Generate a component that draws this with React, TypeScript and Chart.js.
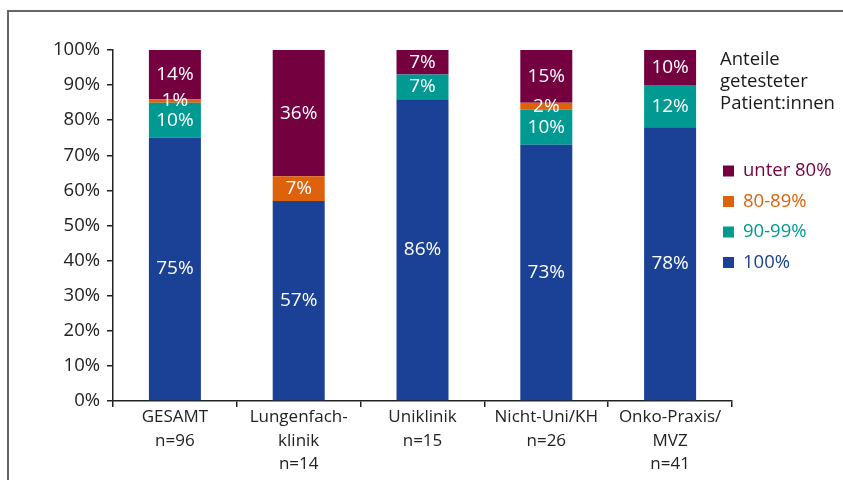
import React, { useEffect, useRef } from "react";
import { Chart, registerables } from "chart.js";

Chart.register(...registerables);

const categories: string[][] = [
  ["GESAMT", "n=96"],
  ["Lungenfach-", "klinik", "n=14"],
  ["Uniklinik", "n=15"],
  ["Nicht-Uni/KH", "n=26"],
  ["Onko-Praxis/", "MVZ", "n=41"],
];
const seriesNames = ["100%", "90-99%", "80-89%", "unter 80%"];
const v100 = [75, 57, 86, 73, 78];
const v9099 = [10, 0, 7, 10, 12];
const v8089 = [1, 7, 0, 2, 0];
const vUnter80 = [14, 36, 7, 15, 10];
const yTicks = [0, 10, 20, 30, 40, 50, 60, 70, 80, 90, 100];
const legendTitle = ["Anteile", "getesteter", "Patient:innen"];

const COLORS = ["#1a4196", "#009a93", "#de620c", "#750040"];
const FONT = "'Open Sans', 'Noto Sans', sans-serif";

const labelPlugin = {
  id: "segLabels",
  afterDatasetsDraw(chart: any) {
    const ctx = chart.ctx;
    ctx.save();
    ctx.fillStyle = "#ffffff";
    ctx.font = `19px ${FONT}`;
    ctx.textAlign = "center";
    ctx.textBaseline = "middle";
    chart.data.datasets.forEach((ds: any, di: number) => {
      const meta = chart.getDatasetMeta(di);
      meta.data.forEach((el: any, i: number) => {
        const v = ds.data[i];
        if (!v) return;
        const y = (el.y + el.base) / 2;
        ctx.fillText(v + "%", el.x, y);
      });
    });
    ctx.restore();
  },
};

const legendPlugin = {
  id: "customLegend",
  afterDraw(chart: any) {
    const ctx = chart.ctx;
    const x0 = chart.chartArea.right - 12;
    ctx.save();
    ctx.font = `18.5px ${FONT}`;
    ctx.textAlign = "left";
    ctx.textBaseline = "middle";
    ctx.fillStyle = "#1a1a1a";
    legendTitle.forEach((t, i) => ctx.fillText(t, x0, 60 + i * 22));
    const order = [3, 2, 1, 0];
    order.forEach((si, k) => {
      const cy = 171 + k * 30.5;
      ctx.fillStyle = COLORS[si];
      ctx.fillRect(x0 + 3, cy - 5.5, 11, 11);
      ctx.fillText(seriesNames[si], x0 + 23, cy);
    });
    ctx.restore();
  },
};

export default function App() {
  const ref = useRef<HTMLCanvasElement>(null);
  useEffect(() => {
    if (!ref.current) return;
    const data = [v100, v9099, v8089, vUnter80];
    const chart = new Chart(ref.current, {
      type: "bar",
      data: {
        labels: categories,
        datasets: data.map((d, i) => ({
          label: seriesNames[i],
          data: d,
          backgroundColor: COLORS[i],
          borderWidth: 0,
          barPercentage: 0.42,
          categoryPercentage: 1,
        })),
      },
      options: {
        animation: false,
        responsive: false,
        maintainAspectRatio: false,
        layout: { padding: { left: 0, right: 111, top: 50, bottom: 0 } },
        plugins: {
          legend: { display: false },
          tooltip: { enabled: false },
        },
        scales: {
          x: {
            stacked: true,
            ticks: {
              color: "#222",
              font: { family: FONT, size: 17, lineHeight: 1.36 },
              padding: -1,
              maxRotation: 0,
              autoSkip: false,
            },
            grid: {
              drawOnChartArea: false,
              tickLength: 6,
              color: "#222",
              lineWidth: 1.5,
              offset: true,
            },
            border: { color: "#222", width: 1.5 },
            afterFit(s: any) {
              s.height = 79;
            },
          },
          y: {
            stacked: true,
            min: 0,
            max: 100,
            afterBuildTicks(s: any) {
              s.ticks = yTicks.map((v) => ({ value: v }));
            },
            ticks: {
              color: "#222",
              font: { family: FONT, size: 18.5 },
              padding: 7,
              callback: (v: any) => v + "%",
            },
            grid: {
              drawOnChartArea: false,
              tickLength: 6,
              color: "#222",
              lineWidth: 1.5,
            },
            border: { color: "#222", width: 1.5 },
            afterFit(s: any) {
              s.width = 113;
            },
          },
        },
      },
      plugins: [labelPlugin, legendPlugin],
    });
    return () => chart.destroy();
  }, []);
  return (
    <div
      style={{
        position: "fixed",
        left: 0,
        top: 0,
        width: 843,
        height: 480,
        overflow: "hidden",
        background: "#fff",
      }}
    >
      <div
        style={{
          position: "absolute",
          left: 7,
          top: 10,
          width: 900,
          height: 500,
          borderLeft: "2px solid #666",
          borderTop: "2px solid #666",
        }}
      />
      <canvas
        ref={ref}
        width={843}
        height={480}
        style={{ position: "absolute", left: 0, top: 0, width: 843, height: 480 }}
      />
    </div>
  );
}
